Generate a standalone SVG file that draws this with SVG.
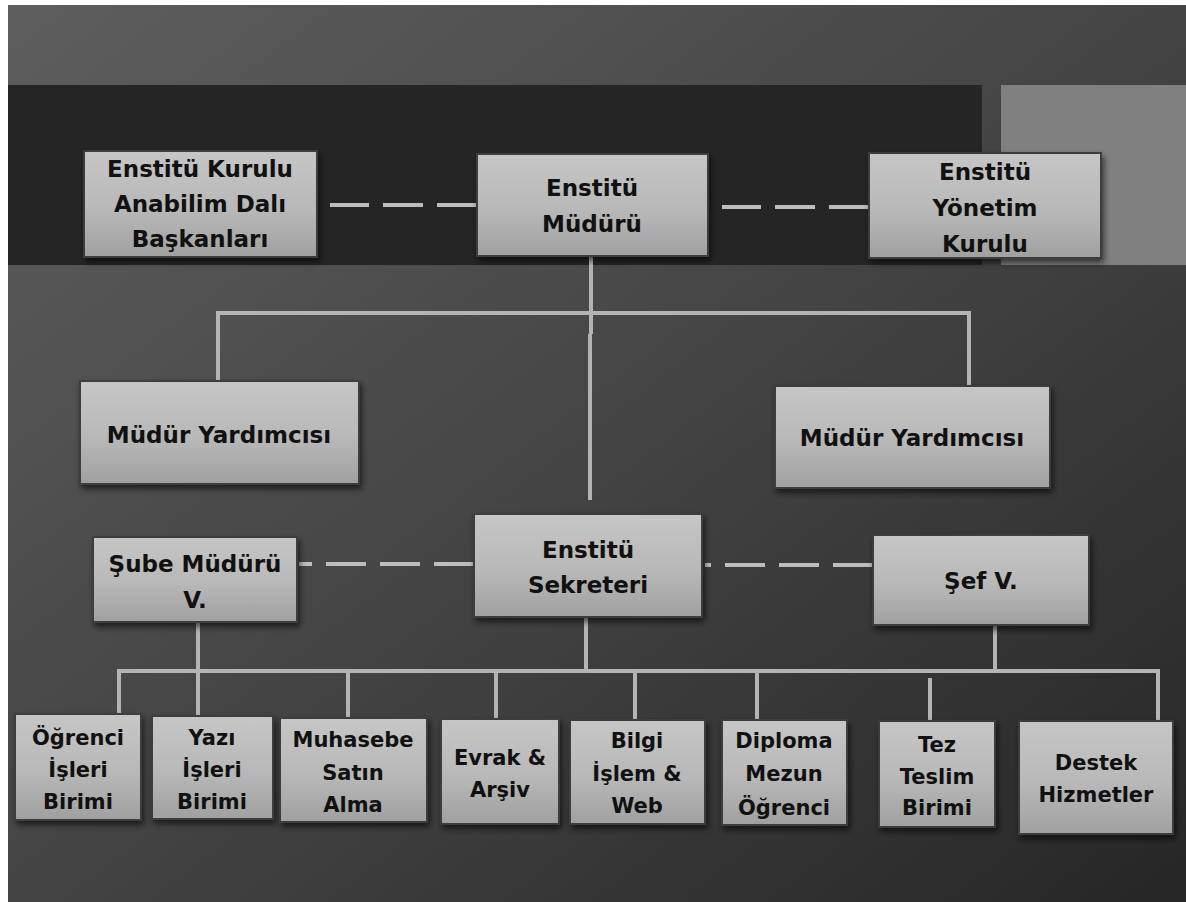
<svg xmlns="http://www.w3.org/2000/svg" width="1186" height="902" viewBox="0 0 1186 902">
<defs>
<linearGradient id="bg" x1="0" y1="0" x2="1" y2="1">
<stop offset="0" stop-color="#5e5e5e"/>
<stop offset="0.45" stop-color="#474747"/>
<stop offset="1" stop-color="#262626"/>
</linearGradient>
<linearGradient id="box" x1="0" y1="0" x2="0" y2="1">
<stop offset="0" stop-color="#c6c6c6"/>
<stop offset="0.55" stop-color="#b8b8b8"/>
<stop offset="1" stop-color="#a0a0a0"/>
</linearGradient>
<filter id="sh" x="-10%" y="-10%" width="130%" height="140%">
<feGaussianBlur in="SourceAlpha" stdDeviation="3"/>
<feOffset dx="2" dy="4" result="b"/>
<feComponentTransfer><feFuncA type="linear" slope="0.6"/></feComponentTransfer>
<feMerge><feMergeNode/><feMergeNode in="SourceGraphic"/></feMerge>
</filter>
</defs>
<style>
.node rect{fill:url(#box);stroke:#3c3c3c;stroke-width:2;filter:url(#sh)}
.t{font-family:"DejaVu Sans",Verdana,sans-serif;font-weight:bold;fill:#111;text-anchor:middle}
.big{font-size:23px}
.sm{font-size:21px}
.ln{stroke:#b4b4b4;stroke-width:4;fill:none}
.dash{stroke:#bdbdbd;stroke-width:4;fill:none;stroke-dasharray:40 14}
</style>
<rect x="0" y="0" width="1186" height="902" fill="#ffffff"/>
<rect x="8" y="5" width="1178" height="897" fill="url(#bg)"/>
<rect x="8" y="85" width="974" height="180" fill="#252525"/>
<rect x="1001" y="85" width="185" height="180" fill="#808080"/>

<g id="connectors">
<path class="dash" d="M477 205 H330"/>
<path class="dash" d="M869 207 H722"/>
<path class="dash" d="M474 564 H299"/>
<path class="dash" d="M873 565 H705"/>
<path class="ln" d="M591 256 V334"/>
<path class="ln" d="M590 334 V500"/>
<path class="ln" d="M218 381 V313 H969 V386"/>
<path class="ln" d="M586 617 V671"/>
<path class="ln" d="M198 622 V715"/>
<path class="ln" d="M995 625 V671"/>
<path class="ln" d="M119 714 V671 H1158 V721"/>
<path class="ln" d="M348 671 V718"/>
<path class="ln" d="M496 671 V719"/>
<path class="ln" d="M635 671 V720"/>
<path class="ln" d="M757 671 V720"/>
<path class="ln" d="M930 678 V721"/>
</g>

<g id="kurulu" class="node"><rect x="84" y="151" width="233" height="106"/>
<text class="t big" x="200" y="177">Enstitü Kurulu</text>
<text class="t big" x="200" y="212">Anabilim Dalı</text>
<text class="t big" x="200" y="247">Başkanları</text></g>

<g id="mudur" class="node"><rect x="477" y="154" width="231" height="102"/>
<text class="t big" x="592" y="196">Enstitü</text>
<text class="t big" x="592" y="232">Müdürü</text></g>

<g id="yonetim" class="node"><rect x="869" y="153" width="232" height="105"/>
<text class="t big" x="985" y="180">Enstitü</text>
<text class="t big" x="985" y="216">Yönetim</text>
<text class="t big" x="985" y="252">Kurulu</text></g>

<g id="yard1" class="node"><rect x="80" y="381" width="279" height="103"/>
<text class="t big" x="219" y="443">Müdür Yardımcısı</text></g>

<g id="yard2" class="node"><rect x="775" y="386" width="275" height="102"/>
<text class="t big" x="912" y="446">Müdür Yardımcısı</text></g>

<g id="sube" class="node"><rect x="93" y="537" width="204" height="85"/>
<text class="t big" x="195" y="572">Şube Müdürü</text>
<text class="t big" x="195" y="608">V.</text></g>

<g id="sekreter" class="node"><rect x="474" y="514" width="228" height="103"/>
<text class="t big" x="588" y="558">Enstitü</text>
<text class="t big" x="588" y="593">Sekreteri</text></g>

<g id="sef" class="node"><rect x="873" y="535" width="216" height="90"/>
<text class="t big" x="981" y="589">Şef V.</text></g>

<g id="ogrenci" class="node"><rect x="15" y="714" width="126" height="106"/>
<text class="t sm" x="78" y="745">Öğrenci</text>
<text class="t sm" x="78" y="777">İşleri</text>
<text class="t sm" x="78" y="809">Birimi</text></g>

<g id="yazi" class="node"><rect x="152" y="716" width="121" height="103"/>
<text class="t sm" x="212" y="745">Yazı</text>
<text class="t sm" x="212" y="777">İşleri</text>
<text class="t sm" x="212" y="809">Birimi</text></g>

<g id="muhasebe" class="node"><rect x="280" y="718" width="147" height="104"/>
<text class="t sm" x="353" y="747">Muhasebe</text>
<text class="t sm" x="353" y="780">Satın</text>
<text class="t sm" x="353" y="812">Alma</text></g>

<g id="evrak" class="node"><rect x="441" y="719" width="118" height="105"/>
<text class="t sm" x="500" y="765">Evrak &amp;</text>
<text class="t sm" x="500" y="797">Arşiv</text></g>

<g id="bilgi" class="node"><rect x="570" y="720" width="135" height="104"/>
<text class="t sm" x="637" y="748">Bilgi</text>
<text class="t sm" x="637" y="781">İşlem &amp;</text>
<text class="t sm" x="637" y="813">Web</text></g>

<g id="diploma" class="node"><rect x="722" y="720" width="125" height="105"/>
<text class="t sm" x="784" y="748">Diploma</text>
<text class="t sm" x="784" y="781">Mezun</text>
<text class="t sm" x="784" y="815">Öğrenci</text></g>

<g id="tez" class="node"><rect x="879" y="721" width="116" height="106"/>
<text class="t sm" x="937" y="752">Tez</text>
<text class="t sm" x="937" y="784">Teslim</text>
<text class="t sm" x="937" y="815">Birimi</text></g>

<g id="destek" class="node"><rect x="1019" y="721" width="154" height="113"/>
<text class="t sm" x="1096" y="770">Destek</text>
<text class="t sm" x="1096" y="802">Hizmetler</text></g>
</svg>
